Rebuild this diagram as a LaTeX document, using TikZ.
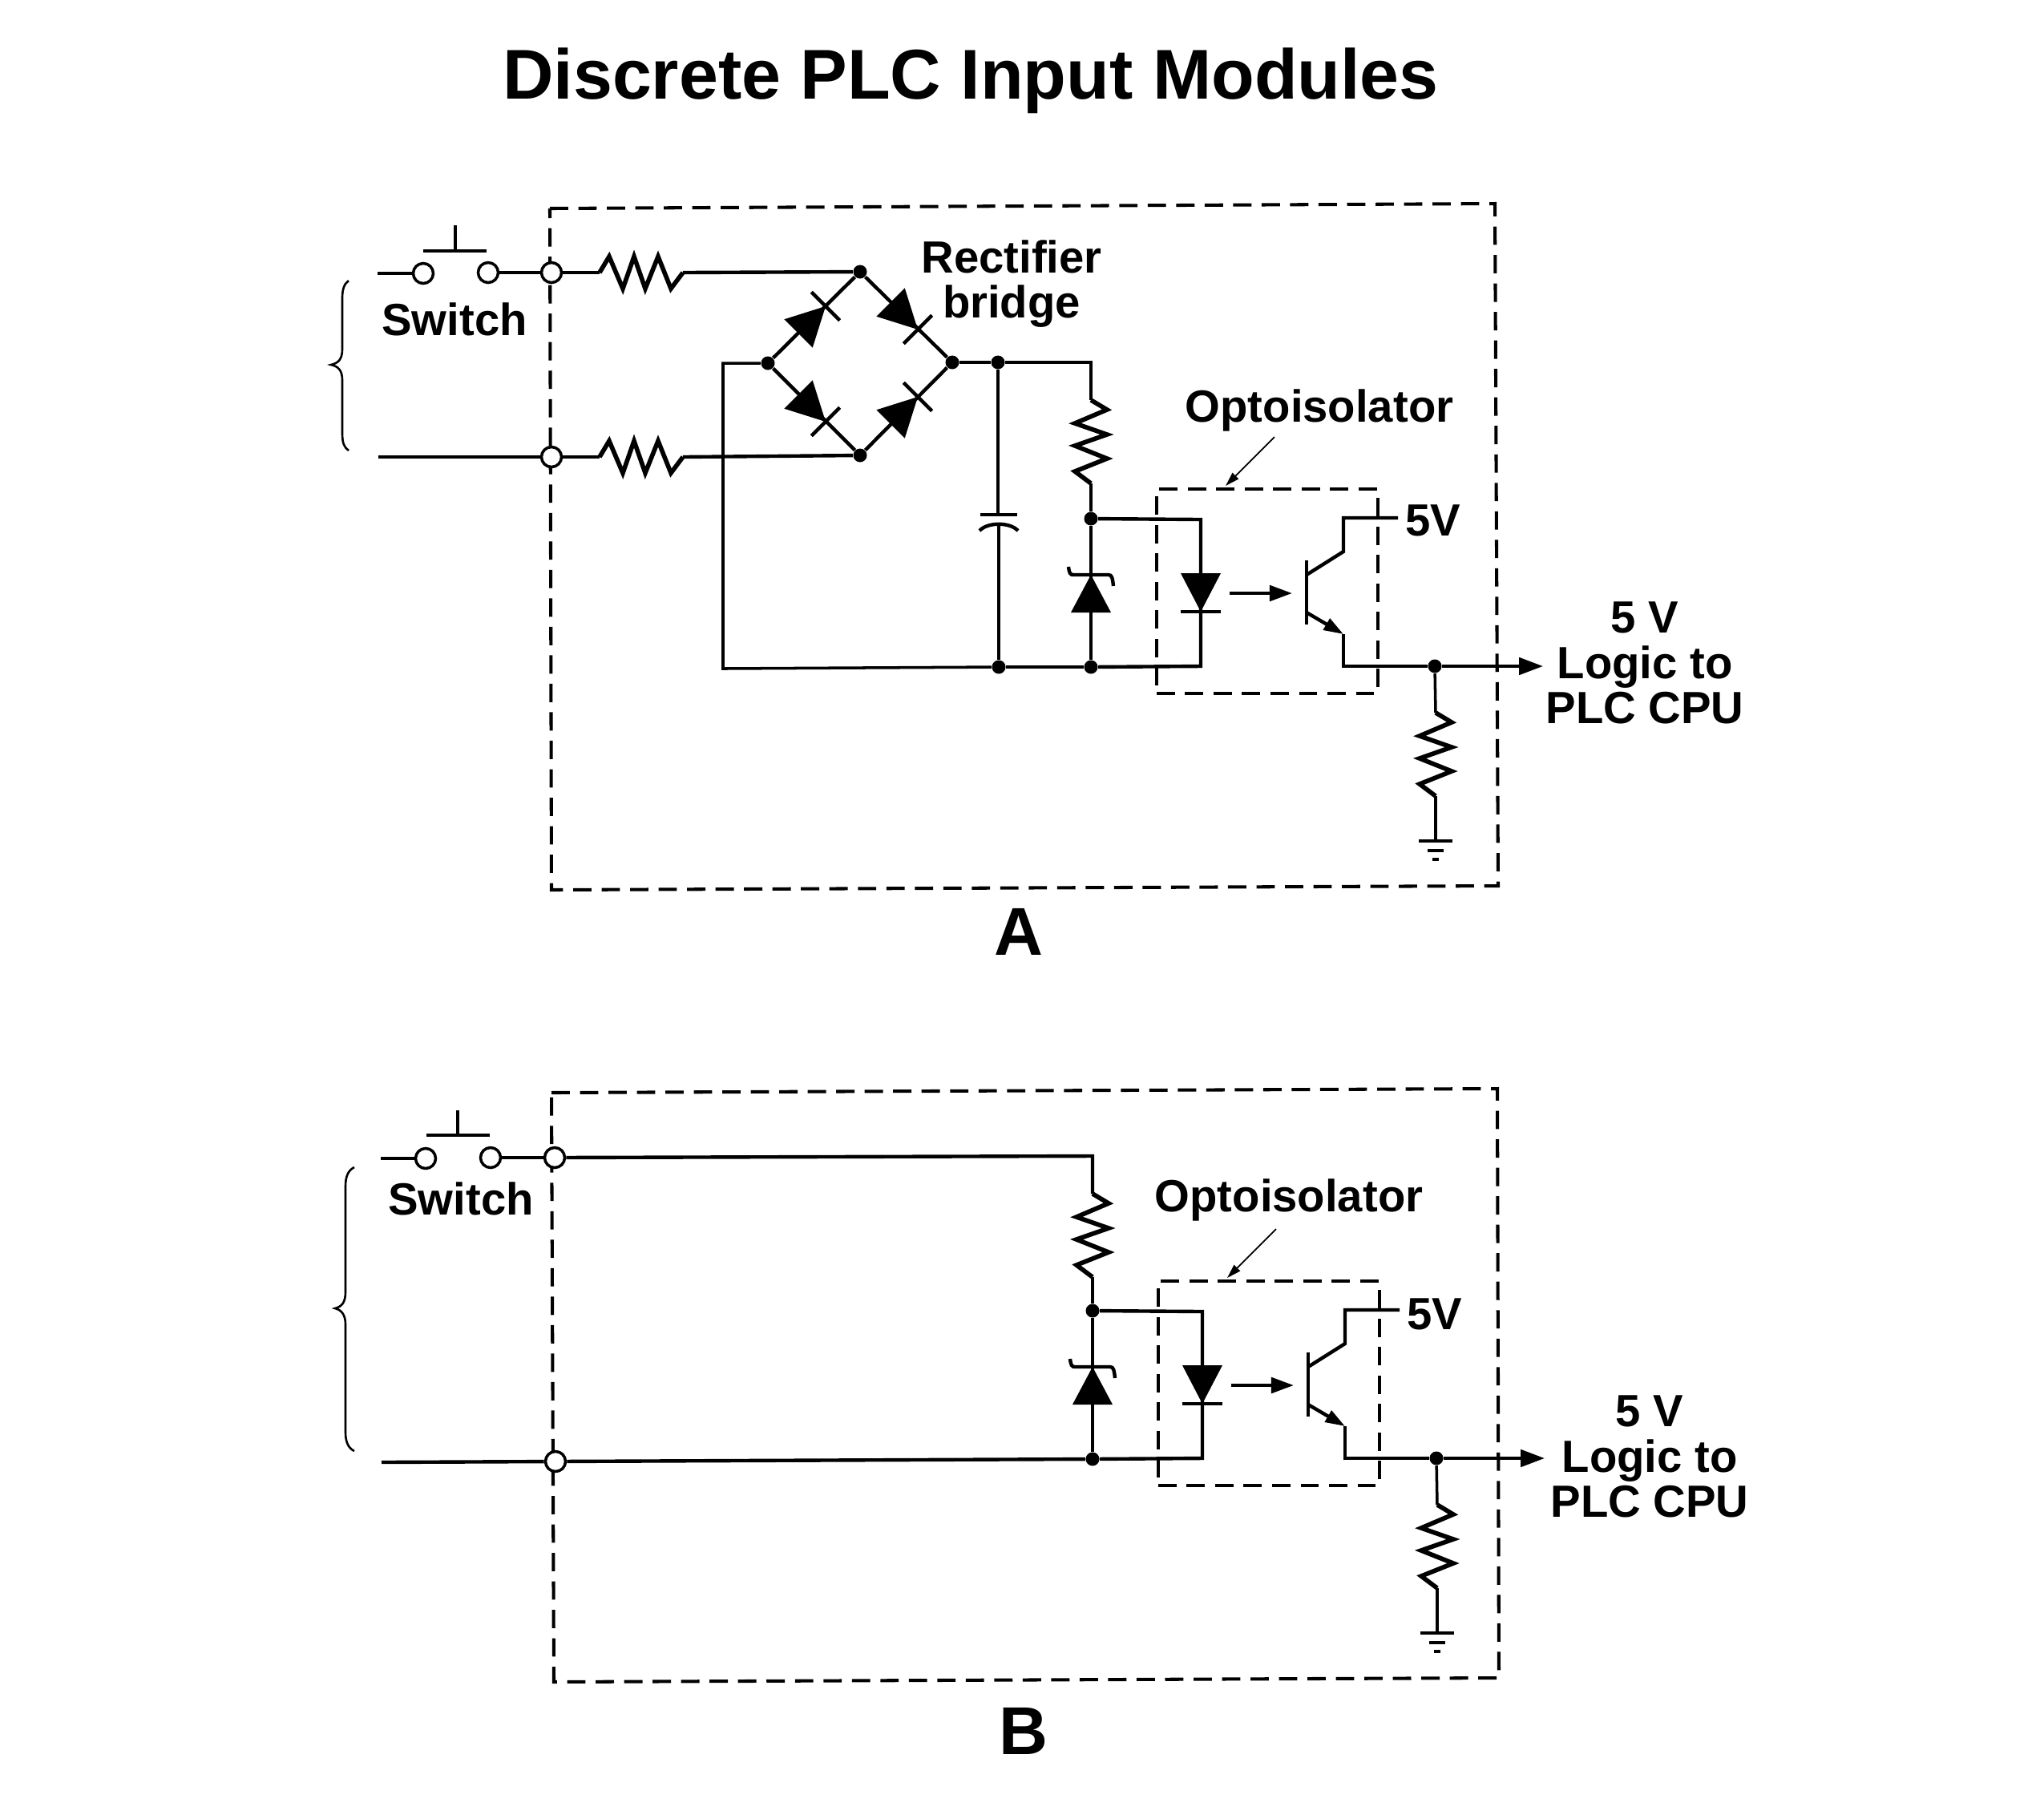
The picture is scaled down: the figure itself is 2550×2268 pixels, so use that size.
\documentclass[tikz,border=0pt]{standalone}
\usepackage{fontspec}
\setmainfont{Liberation Sans}[BoldFont={Liberation Sans Bold}]
\usetikzlibrary{arrows.meta}
\tikzset{
  wire/.style={line width=1.25pt,line join=miter,line cap=butt},
  thinwire/.style={line width=1pt},
  dashbox/.style={line width=1.15pt,dash pattern=on 6.5pt off 3.6pt},
  jdot/.style={circle,fill=black,inner sep=0pt,minimum size=0.17cm},
  term/.style={circle,draw=black,fill=white,line width=1pt,inner sep=0pt,minimum size=0.25cm},
  lab/.style={inner sep=0pt,font=\fontsize{16}{16}\selectfont\bfseries,align=center},
  big/.style={inner sep=0pt,font=\fontsize{25}{25}\selectfont\bfseries},
  panelmark/.style={inner sep=0pt,font=\fontsize{24}{24}\selectfont\bfseries},
  resistor/.pic={
    \draw[line width=1.6pt,line join=miter] (0,0) -- (12,-20) -- (29,20) -- (43,-20) -- (57,20) -- (73,-20) -- (89,20) -- (104,0);
    \coordinate (-in) at (0,0);
    \coordinate (-out) at (104,0);
  },
  diode/.pic={
    \fill (0,0) -- (-48,-25) -- (-48,25) -- cycle;
    \draw[line width=1.25pt] (0,-25) -- (0,25);
  },
  zener/.pic={
    \fill (0,0) -- (-47,-25) -- (-47,25) -- cycle;
    \draw[line width=1.25pt] (10,-28) .. controls (2,-27) and (0,-26) .. (0,-22) -- (0,22) .. controls (0,26) and (-4,27) .. (-14,28);
  },
  ground/.pic={
    \draw[line width=1.25pt] (-21,0) -- (21,0);
    \draw[line width=1.1pt] (-10,12) -- (10,12);
    \draw[line width=1.1pt] (-4,23) -- (4,23);
  }
}
% Shared stage: zener, optoisolator, output, load resistor, ground
\newcommand{\optoStage}[1]{%
  \node[jdot] (#1nt) at (1361,647) {};
  \node[jdot] (#1nb) at (1361,832) {};
  \node[jdot] (#1no) at (1790,831) {};
  \pic at (1361,717) [rotate=90] {zener};
  \draw[wire] (#1nt) -- (#1nb);
  \node[draw,dashbox,minimum width=2.76cm,minimum height=2.55cm,inner sep=0pt] (#1box) at (1581,737.5) {};
  \coordinate (#1dt) at (1498,648);
  \coordinate (#1db) at (1498,831);
  \draw[wire] (#1nt) -- (#1dt) -- (#1db) -- (#1nb);
  \pic at (1498,763) [rotate=-90] {diode};
  \coordinate (#1la) at (1534,740);
  \coordinate (#1lb) at (1612,740);
  \draw[wire,-{Triangle[length=8pt,width=5.5pt]}] (#1la) -- (#1lb);
  \coordinate (#1bt) at (1630,699);
  \coordinate (#1bb) at (1630,779);
  \draw[wire] (#1bt) -- (#1bb);
  \coordinate (#1c0) at (1630,717);
  \coordinate (#1c1) at (1676,688);
  \coordinate (#1c2) at (1676,646);
  \coordinate (#1c3) at (1744,646);
  \draw[wire] (#1c0) -- (#1c1) -- (#1c2) -- (#1c3);
  \coordinate (#1e0) at (1630,764);
  \coordinate (#1e1) at (1676,791);
  \coordinate (#1e2) at (1676,831);
  \draw[wire,-{Triangle[length=7pt,width=4.5pt]}] (#1e0) -- (#1e1);
  \draw[wire] (#1e1) -- (#1e2) -- (#1no);
  \coordinate (#1out) at (1925,831);
  \draw[wire,-{Triangle[length=8.5pt,width=6pt]}] (#1no) -- (#1out);
  \pic[rotate=-90] (#1rl) at (1791,889) {resistor};
  \coordinate (#1gnd) at (1791,1049);
  \draw[thinwire] (#1no) -- (#1rl-in);
  \draw[thinwire] (#1rl-out) -- (#1gnd);
  \pic at (#1gnd) {ground};
  \coordinate (#1arr) at (1590,545);
  \coordinate (#1art) at (1529,606);
  \draw[line width=0.5pt,-{Triangle[length=5pt,width=3pt]}] (#1arr) -- (#1art);
}
\begin{document}
\begin{tikzpicture}[x=0.01cm,y=-0.01cm]
\useasboundingbox (0,0) rectangle (2550,2268);
\fill[white] (0,0) rectangle (2550,2268);
\node[big] (title) at (1211,101) {Discrete PLC Input Modules};

%%%%%%%%%%%% Panel A
\draw[dashbox] (686,260) -- (1865,254) -- (1869,1105) -- (688,1110) -- cycle;
\node[panelmark] (markA) at (1271,1162) {A};
\draw[thinwire,line width=0.75pt] (435,350) .. controls (429,354) and (427,362) .. (427,372) -- (427,436) .. controls (427,448) and (422,453) .. (413,455) .. controls (422,457) and (427,462) .. (427,474) -- (427,540) .. controls (427,552) and (429,558) .. (435,562);
% switch
\coordinate (aL1) at (471,341);
\coordinate (aL2) at (472,570);
\node[term] (aS1) at (528,341) {};
\node[term] (aS2) at (609,340) {};
\node[term] (aJ1) at (688,340) {};
\node[term] (aJ2) at (688,570) {};
\draw[wire] (aL1) -- (aS1);
\draw[wire] (aS2) -- (aJ1);
\draw[wire] (aL2) -- (aJ2);
\coordinate (aBarL) at (528,313);
\coordinate (aBarR) at (607,313);
\coordinate (aStem) at (568,281);
\coordinate (aStemB) at (568,313);
\draw[wire] (aBarL) -- (aBarR);
\draw[thinwire] (aStem) -- (aStemB);
\node[lab] (aSw) at (567,398) {Switch};
% input resistors
\pic (aR1) at (748,340) {resistor};
\pic (aR2) at (748,570) {resistor};
\node[jdot] (aT) at (1073,339) {};
\node[jdot] (aB) at (1073,568) {};
\node[jdot] (aLft) at (958,453) {};
\node[jdot] (aRgt) at (1188,452) {};
\draw[wire] (aJ1) -- (aR1-in);
\draw[wire] (aR1-out) -- (aT);
\draw[wire] (aJ2) -- (aR2-in);
\draw[wire] (aR2-out) -- (aB);
% bridge
\draw[wire] (aLft) -- (aT) -- (aRgt) -- (aB) -- (aLft);
\pic at (1030,382) [rotate=45] {diode};
\pic at (1145,411) [rotate=-45] {diode};
\pic at (1030,526) [rotate=-45] {diode};
\pic at (1145,495) [rotate=45] {diode};
\node[lab] (aRect) at (1262,354) {Rectifier\\[0pt]bridge};
% rail and capacitor
\node[jdot] (aCt) at (1245,452) {};
\node[jdot] (aCb) at (1246,832) {};
\coordinate (aPl1) at (1223,642);
\coordinate (aPl2) at (1269,642);
\coordinate (aPlT) at (1245,642);
\coordinate (aPlB) at (1246,654);
\draw[wire] (aRgt) -- (aCt);
\draw[thinwire] (aCt) -- (aPlT);
\draw[thinwire] (aPlB) -- (aCb);
\draw[wire] (aPl1) -- (aPl2);
\draw[wire] (1222,662) .. controls (1232,651) and (1260,651) .. (1270,662);
\coordinate (aRet) at (902,453);
\coordinate (aRetB) at (902,834);
\draw[thinwire] (aLft) -- (aRet) -- (aRetB) -- (aCb);
\optoStage{a}
\draw[wire] (aCb) -- (anb);
\coordinate (aTurn) at (1361,452);
\pic[rotate=-90] (aR3) at (1361,499) {resistor};
\draw[wire] (aCt) -- (aTurn) -- (aR3-in);
\draw[wire] (aR3-out) -- (ant);
\node[lab] (aOpto) at (1646,512) {Optoisolator};
\node[lab] (aFive) at (1788,649) {5V};
\node[lab,align=center] (aLogic) at (2052,827) {5 V\\Logic to\\PLC CPU};

%%%%%%%%%%%% Panel B
\draw[dashbox] (688,1363) -- (1868,1358) -- (1870,2093) -- (691,2098) -- cycle;
\node[panelmark] (markB) at (1277,2159) {B};
\draw[thinwire,line width=0.75pt] (442,1456) .. controls (434,1460) and (431,1468) .. (431,1480) -- (431,1612) .. controls (431,1625) and (426,1630) .. (418,1632) .. controls (426,1634) and (431,1640) .. (431,1652) -- (431,1786) .. controls (431,1798) and (434,1806) .. (442,1810);
\coordinate (bL1) at (475,1445);
\coordinate (bL2) at (476,1824);
\node[term] (bS1) at (531,1445) {};
\node[term] (bS2) at (612,1444) {};
\node[term] (bJ1) at (692,1444) {};
\node[term] (bJ2) at (693,1823) {};
\draw[wire] (bL1) -- (bS1);
\draw[wire] (bS2) -- (bJ1);
\draw[wire] (bL2) -- (bJ2);
\coordinate (bBarL) at (532,1416);
\coordinate (bBarR) at (611,1416);
\coordinate (bStem) at (571,1385);
\coordinate (bStemB) at (571,1416);
\draw[wire] (bBarL) -- (bBarR);
\draw[thinwire] (bStem) -- (bStemB);
\node[lab] (bSw) at (575,1495) {Switch};
\begin{scope}[shift={(2,988)}]
\optoStage{b}
\end{scope}
\coordinate (bTurn) at (1363,1442);
\pic[rotate=-90] (bR3) at (1363,1489) {resistor};
\draw[wire] (bJ1) -- (bTurn) -- (bR3-in);
\draw[wire] (bR3-out) -- (bnt);
\draw[wire] (bJ2) -- (bnb);
\node[lab] (bOpto) at (1608,1497) {Optoisolator};
\node[lab] (bFive) at (1790,1639) {5V};
\node[lab,align=center] (bLogic) at (2058,1817) {5 V\\Logic to\\PLC CPU};
\end{tikzpicture}
\end{document}
